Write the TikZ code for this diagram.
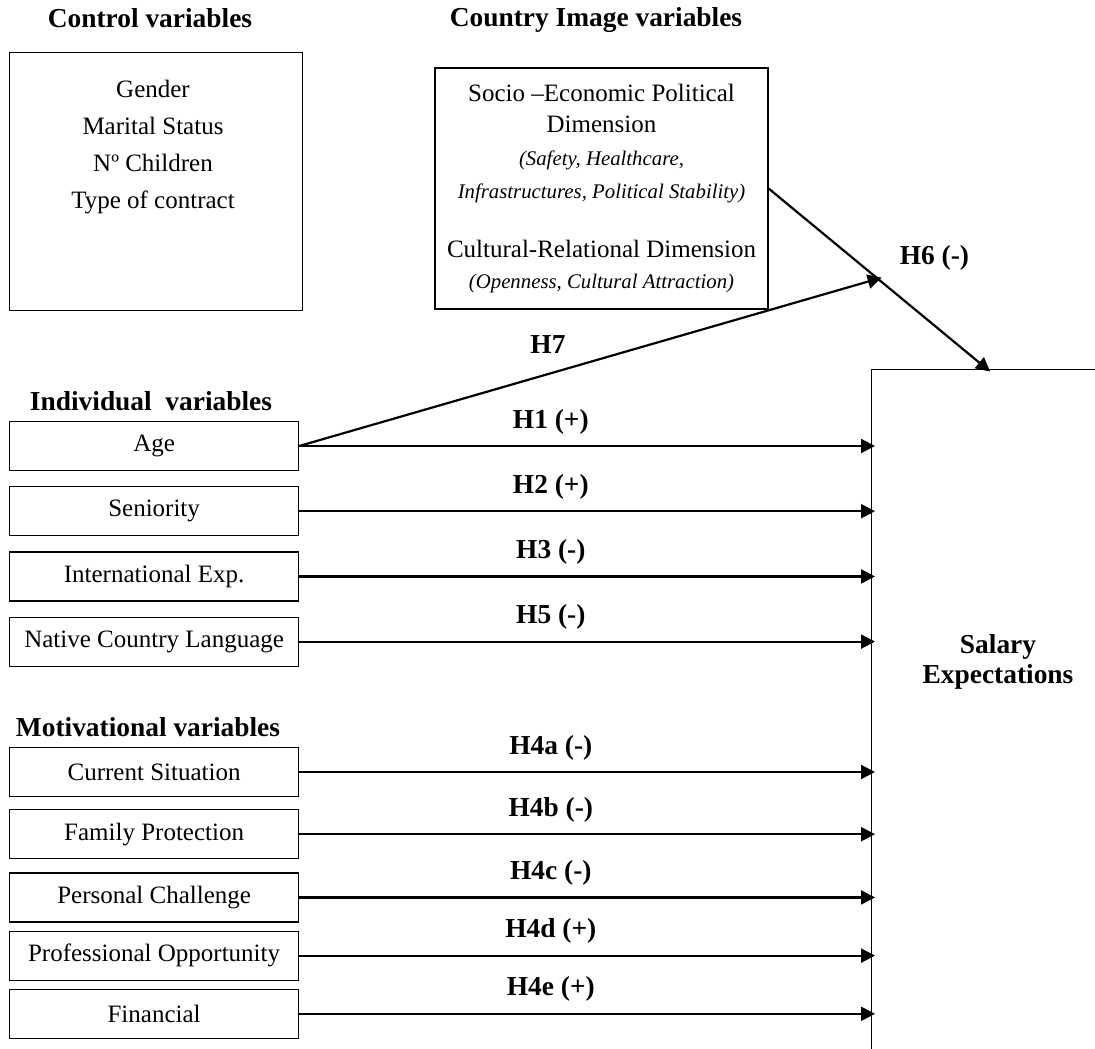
\documentclass[tikz,border=0pt]{standalone}
\usepackage{fontspec}
\setmainfont{Liberation Serif}
\usetikzlibrary{arrows.meta,positioning}

\begin{document}
\begin{tikzpicture}[x=0.5pt,y=-0.5pt,>={Triangle[length=7pt,width=7pt]},
	box/.style={draw,line width=0.6pt,inner sep=0pt},
	var node/.style={box,minimum width=144.5pt,minimum height=24.5pt,font=\fontsize{12.5}{15}\selectfont},
	head/.style={font=\bfseries\fontsize{13.7}{15}\selectfont,inner sep=0pt},
	hyp/.style={font=\bfseries\fontsize{13.7}{15}\selectfont,inner sep=0pt},
	link/.style={->,line width=1.1pt,shorten >=-2pt}]

	\useasboundingbox (0,0) rectangle (1095,1048);
	\clip (0,0) rectangle (1095,1048);

	% control variables
	\node[head] (ctrlhead) at (150,18) {Control variables};
	\node[box,anchor=north west,minimum width=146.5pt,minimum height=129pt] (ctrl) at (9,52) {};
	\node[align=center,inner sep=0pt,anchor=north,font=\fontsize{12.5}{18.5}\selectfont] (ctrltext) at (153,80)
		{Gender\\Marital Status\\Nº Children\\Type of contract};

	% country image
	\node[head] (cimghead) at (596,20) {Country Image variables};
	\node[box,minimum width=166.5pt,minimum height=120.5pt,align=center,font=\fontsize{12.5}{15.5}\selectfont] (cimg) at (601.5,188.5)
		{Socio –Economic Political\\Dimension\\[1pt]
		{\itshape\fontsize{10.4}{15.5}\selectfont (Safety, Healthcare,}\\[1pt]
		{\itshape\fontsize{10.4}{15.5}\selectfont Infrastructures, Political Stability)}\\[14pt]
		Cultural-Relational Dimension\\
		{\itshape\fontsize{10.4}{15.5}\selectfont (Openness, Cultural Attraction)}};

	% salary expectations
	\node[box,anchor=north west,minimum width=200pt,minimum height=400pt] (sal) at (871,369) {};
	\node[head,align=center] (saltext) at (998,662) {Salary\\Expectations};
	\coordinate (h6end) at ([xshift=58pt]sal.north west);

	% individual variables
	\node[head] (indhead) at (151,401) {Individual\ \ variables};
	\node[var node,anchor=west] (age) at (9,446) {Age};
	\node[var node,below=7.5pt of age] (sen) {Seniority};
	\node[var node,below=7.5pt of sen] (intl) {International Exp.};
	\node[var node,below=7.5pt of intl] (lang) {Native Country Language};

	% motivational variables
	\node[head] (mothead) at (148,727) {Motivational variables};
	\node[var node,anchor=west] (cur) at (9,772) {Current Situation};
	\node[var node,below=6pt of cur] (fam) {Family Protection};
	\node[var node,below=6.5pt of fam] (pers) {Personal Challenge};
	\node[var node,below=4pt of pers] (prof) {Professional Opportunity};
	\node[var node,below=4pt of prof] (fin) {Financial};

	% hypotheses
	\draw[link] (cimg.east) -- coordinate[pos=0.5] (mod)
		node[hyp,pos=0.385,right=23pt] {H6 (-)} (h6end);
	\draw[link] (age.east) -- (mod) node[hyp,pos=0.43,above=9.5pt] {H7};
	\draw[link] (age) -- (age -| sal.west) node[hyp,pos=0.44,above=5.5pt] {H1 (+)};
	\draw[link] (sen) -- (sen -| sal.west) node[hyp,pos=0.44,above=5.5pt] {H2 (+)};
	\draw[link] (intl) -- (intl -| sal.west) node[hyp,pos=0.44,above=5.5pt] {H3 (-)};
	\draw[link] (lang) -- (lang -| sal.west) node[hyp,pos=0.44,above=5.5pt] {H5 (-)};
	\draw[link] (cur) -- (cur -| sal.west) node[hyp,pos=0.44,above=5.5pt] {H4a (-)};
	\draw[link] (fam) -- (fam -| sal.west) node[hyp,pos=0.44,above=5.5pt] {H4b (-)};
	\draw[link] (pers) -- (pers -| sal.west) node[hyp,pos=0.44,above=5.5pt] {H4c (-)};
	\draw[link] (prof) -- (prof -| sal.west) node[hyp,pos=0.44,above=5.5pt] {H4d (+)};
	\draw[link] (fin) -- (fin -| sal.west) node[hyp,pos=0.44,above=5.5pt] {H4e (+)};
\end{tikzpicture}
\end{document}
